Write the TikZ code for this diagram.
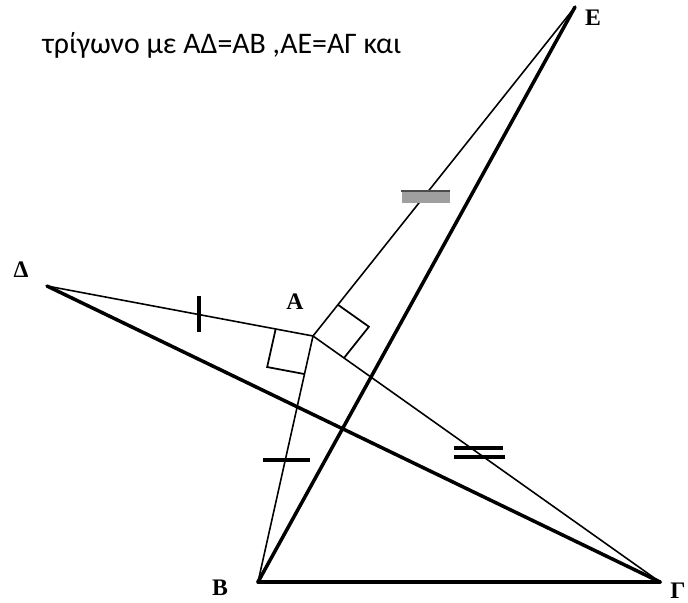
\documentclass[tikz,border=0pt]{standalone}
\usepackage{fontspec}
\setmainfont{Carlito}
\newfontfamily\lblfont{Liberation Serif}
\usetikzlibrary{calc}

\begin{document}
\begin{tikzpicture}[x=0.02cm, y=-0.02cm,
    thickline/.style={line width=2pt, line cap=round},
    thinline/.style={line width=0.9pt},
    tickmark/.style={line width=1.9pt},
    rightangle/.style={line width=1pt},
    lbl/.style={font=\lblfont\bfseries\fontsize{13.5}{16}\selectfont, inner sep=0pt}]
  \useasboundingbox (0,0) rectangle (688,602);
  % points of the figure
  \coordinate (E) at (575,7);
  \coordinate (D) at (47,286);
  \coordinate (A) at (313,336);
  \coordinate (B) at (258,582);
  \coordinate (G) at (660,582);
  % heading
  \node[anchor=base west, font=\fontsize{17}{20}\selectfont, inner sep=0pt] (title) at (42,53) {τρίγωνο με ΑΔ=ΑΒ ,ΑΕ=ΑΓ και};
  % thin sides
  \draw[thinline] (D) -- (A);
  \draw[thinline] (A) -- (B);
  \draw[thinline] (A) -- (E);
  \draw[thinline] (A) -- (G);
  % thick sides
  \draw[thickline] (D) -- (G);
  \draw[thickline] (B) -- (E);
  \draw[thickline] (B) -- (G);
  % right angles at A
  \coordinate (p1) at ($(A)!0.76cm!(D)$);
  \coordinate (p2) at ($(A)!0.78cm!(B)$);
  \draw[rightangle] (p1) -- ($(p1)+(p2)-(A)$) -- (p2);
  \coordinate (q1) at ($(A)!0.8cm!(E)$);
  \coordinate (q2) at ($(A)!0.76cm!(G)$);
  \draw[rightangle] (q1) -- ($(q1)+(q2)-(A)$) -- (q2);
  % equal marks
  \draw[tickmark] (199,296) -- (199,332);
  \draw[tickmark] (263,460) -- (310,460);
  \draw[tickmark] (454,448) -- (503,448);
  \draw[tickmark] (454,457) -- (505,457);
  \fill[gray!75] (402,191) rectangle (450,203);
  \draw[line width=1.2pt, black!70] (401,191) -- (450,191);
  % labels
  \node[lbl] (lE) at (593,18) {Ε};
  \node[lbl] (lD) at (21,270) {Δ};
  \node[lbl] (lA) at (295,302) {Α};
  \node[lbl] (lB) at (220,588) {Β};
  \node[lbl] (lG) at (678,591) {Γ};
\end{tikzpicture}
\end{document}
